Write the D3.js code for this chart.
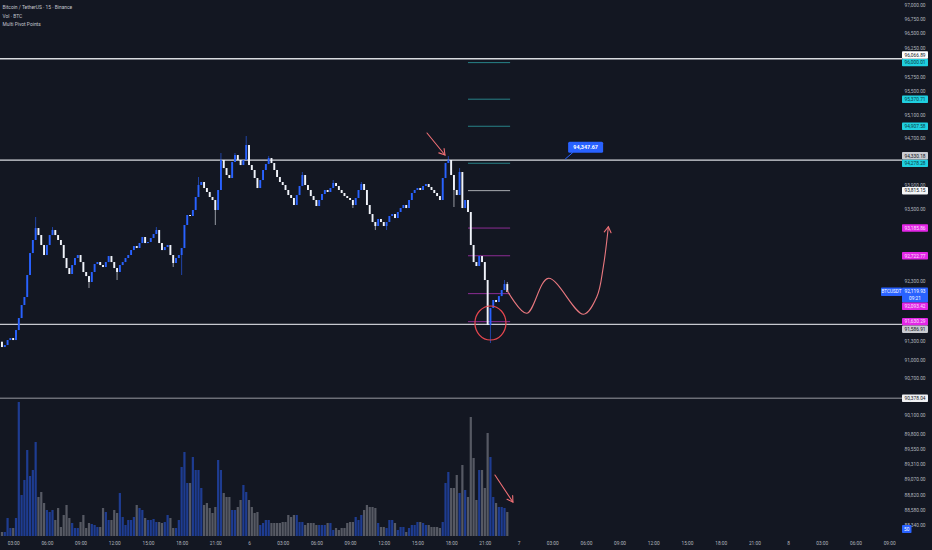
<!DOCTYPE html>
<html lang="en">
<head>
<meta charset="UTF-8">
<title>Bitcoin / TetherUS - 15 - Binance</title>
<script src="https://d3js.org/d3.v7.min.js"></script>
<style>
  html, body { margin: 0; padding: 0; background: #131722; }
  svg { display: block; font-family: Roboto, "Liberation Sans", sans-serif; }
</style>
</head>
<body>
<svg width="932" height="550"></svg>
<script>
// ---- data (15m candles, day 5 02:00 -> day 6 23:00, UTC) ----
const startTime = Date.UTC(2025, 4, 5, 2, 0);
const firstOpen = 91300;
const closes = [
  91213, 91246, 91328, 91361, 91328, 91492, 91690, 91905, 92037, 92402,
  92768, 92986, 93186, 93069, 92902, 92735, 92902, 93069, 93153, 93069,
  92986, 92902, 92685, 92518, 92419, 92568, 92685, 92735, 92618, 92452,
  92385, 92286, 92452, 92585, 92618, 92568, 92535, 92618, 92718, 92618,
  92518, 92452, 92568, 92618, 92685, 92735, 92818, 92885, 92852, 92935,
  93036, 92935, 92952, 93019, 93086, 93153, 92935, 92818, 92868, 92902,
  92735, 92602, 92685, 92735, 92852, 93237, 93405, 93388, 93489, 93708,
  93910, 93961, 93859, 93792, 93708, 93657, 93489, 93826, 94333, 94197,
  94079, 94028, 94299, 94418, 94333, 94248, 94333, 94588, 94248, 94164,
  94028, 93859, 93994, 94164, 94265, 94367, 94282, 94164, 94045, 93961,
  93910, 93826, 93741, 93691, 93573, 93741, 93893, 94079, 93910, 93826,
  93724, 93657, 93556, 93657, 93758, 93826, 93792, 93859, 93944, 93893,
  93826, 93775, 93724, 93691, 93657, 93573, 93691, 93826, 93927, 93826,
  93573, 93421, 93287, 93220, 93338, 93287, 93220, 93287, 93388, 93421,
  93354, 93455, 93522, 93573, 93522, 93657, 93775, 93826, 93859, 93826,
  93893, 93927, 93876, 93826, 93775, 93724, 93657, 94028, 94282, 94333,
  94079, 93826, 93741, 94130, 93522, 93657, 93455, 92902, 92618, 92552,
  92718, 92618, 92319, 91575, 91855, 91988, 91954, 92053, 92153, 92252,
  92119.93
];
// wicks that stick out beyond the body: [candle index, price]
const highs = [[12, 93371], [18, 93203], [55, 93203], [70, 94045], [78, 94452],
  [83, 94452], [87, 94741], [95, 94400], [107, 94130], [118, 93994], [128, 93961],
  [159, 94400], [163, 94197], [179, 92319], [180, 92286]];
const lows = [[31, 92186], [41, 92319], [61, 92535], [64, 92402], [76, 93237],
  [125, 93522], [133, 93153], [137, 93153], [161, 93539], [174, 91279]];
const volumes = [
  40, 40, 180, 80, 80, 180, 1340, 410, 560, 860,
  600, 660, 940, 390, 440, 330, 260, 240, 260, 160,
  280, 90, 210, 310, 180, 130, 80, 80, 140, 210,
  80, 130, 120, 110, 90, 90, 280, 240, 160, 160,
  260, 230, 430, 190, 110, 160, 160, 190, 310, 280,
  260, 180, 160, 160, 170, 140, 140, 130, 140, 210,
  180, 80, 80, 160, 690, 840, 530, 530, 790, 660,
  660, 480, 310, 330, 280, 230, 290, 760, 660, 430,
  390, 390, 260, 260, 290, 360, 510, 440, 360, 290,
  230, 240, 110, 130, 160, 160, 130, 130, 130, 130,
  140, 140, 210, 190, 210, 210, 140, 140, 110, 130,
  130, 130, 110, 110, 110, 110, 130, 130, 60, 80,
  60, 80, 80, 130, 140, 140, 190, 160, 210, 260,
  310, 290, 290, 280, 130, 90, 90, 80, 160, 160,
  130, 60, 90, 90, 40, 80, 110, 110, 140, 140,
  130, 110, 110, 90, 90, 90, 80, 140, 530, 640,
  480, 480, 610, 430, 710, 460, 390, 1190, 780, 360,
  660, 660, 480, 1030, 790, 390, 330, 290, 290, 280,
  240
];

const hLines = [96066.89, 94330.18, 91586.91, 90378.04];
const pivotNames = ["R4", "R3", "R2", "R1", "P", "S1", "S2", "S3", "S4"];
const pivotValues = [96000.01, 95370.71, 94907.58, 94278.28, 93815.15,
  93185.86, 92722.77, 92093.42, 91630.29];
const pivotStart = 166, pivotEnd = 181;   // candle indexes the pivot set spans
const priceTicks = [97000, 96750, 96500, 96250, 95750, 95500, 95100, 94700,
  93900, 93500, 92300, 91300, 91000, 90700, 90100, 89800, 89550, 89310,
  89070, 88820, 88580, 88340];
const symbol = "BTCUSDT";
const lastPrice = 92119.93;
const countdown = "09:21";
const volumeLabel = "50";
const legendLines = ["Bitcoin / TetherUS · 15 · Binance", "Vol · BTC", "Multi Pivot Points"];

// drawings: [candle offset from start, price]
const calloutPoint = [200.6, 94347.67];
const topArrow = [[151.4, 94793], [157.8, 94418]];
const volArrow = [[175.6, 89138], [182.0, 88706]];
const wave = [[180.0, 92142], [186.9, 91768], [194.6, 92347], [207.1, 91752],
  [211.9, 92042], [214.2, 92539], [216.0, 93208]];
const lowCircle = [174.0, 91608];

// ---- scales ----
const svg = d3.select("svg");
const W = 932, H = 550, axisX = 902;
const x = d3.scaleUtc()
  .domain([new Date(Date.UTC(2025, 4, 5, 0)), new Date(Date.UTC(2025, 4, 8, 9))])
  .range([-20.5, 889.1]);
const y = d3.scaleLog().domain([88340, 97000]).range([525, 5]);
const vBase = 536;
const vy = d3.scaleLinear().domain([0, d3.max(volumes)]).range([vBase, vBase - 134]);
const tAt = k => new Date(startTime + k * 15 * 60000);
const px = d => [x(tAt(d[0])), y(d[1])];

const upColor = "#2962ff", downColor = "#f0f3fa";
const red = "#ef6f75";

svg.append("rect").attr("width", W).attr("height", H).attr("fill", "#131722");

const highMap = new Map(highs), lowMap = new Map(lows);
const candles = closes.map((c, i) => {
  const o = i ? closes[i - 1] : firstOpen;
  return {
    t: tAt(i), o, c,
    h: Math.max(o, c, highMap.get(i) || 0),
    l: Math.min(o, c, lowMap.get(i) || Infinity),
    v: volumes[i], up: c >= o
  };
});

// ---- volume ----
svg.append("g").selectAll("rect").data(candles).join("rect")
  .attr("x", d => x(d.t) - 1.1)
  .attr("width", 2.2)
  .attr("y", d => vy(d.v))
  .attr("height", d => vBase - vy(d.v))
  .attr("fill", d => d.up ? "rgba(41,98,255,0.5)" : "rgba(178,181,190,0.42)");

// ---- horizontal levels ----
const lineStroke = ["#d9dbe0", "#d9dbe0", "#c7c9cf", "#a7a9b0"];
const lineWidth = [1.3, 1.3, 1.2, 0.9];
svg.append("g").selectAll("line").data(hLines).join("line")
  .attr("x1", 0).attr("x2", axisX)
  .attr("y1", d => y(d)).attr("y2", d => y(d))
  .attr("stroke", (d, i) => lineStroke[i])
  .attr("stroke-width", (d, i) => lineWidth[i]);

// ---- pivot points ----
const pivotLine = n => n[0] === "R" ? "#2a8f93" : n[0] === "P" ? "#b8bac0" : "#9a2fa0";
svg.append("g").selectAll("line").data(pivotValues).join("line")
  .attr("x1", x(tAt(pivotStart))).attr("x2", x(tAt(pivotEnd)))
  .attr("y1", d => y(d)).attr("y2", d => y(d))
  .attr("stroke", (d, i) => pivotLine(pivotNames[i]))
  .attr("stroke-width", 0.9);

// ---- candles ----
const cg = svg.append("g");
cg.selectAll("line").data(candles).join("line")
  .attr("x1", d => x(d.t)).attr("x2", d => x(d.t))
  .attr("y1", d => y(d.h)).attr("y2", d => y(d.l))
  .attr("stroke", d => d.up ? upColor : downColor)
  .attr("stroke-width", 0.6);
cg.selectAll("rect").data(candles).join("rect")
  .attr("x", d => x(d.t) - 0.95)
  .attr("width", 1.9)
  .attr("y", d => y(Math.max(d.o, d.c)))
  .attr("height", d => Math.max(0.7, Math.abs(y(d.o) - y(d.c))))
  .attr("fill", d => d.up ? upColor : downColor);

// ---- drawings ----
const dg = svg.append("g").attr("fill", "none").attr("stroke", red)
  .attr("stroke-width", 1.1).attr("stroke-linecap", "round");

function arrowHead(from, to) {
  const a = Math.atan2(to[1] - from[1], to[0] - from[0]);
  const len = 6.5, spread = 0.55;
  const p1 = [to[0] - len * Math.cos(a - spread), to[1] - len * Math.sin(a - spread)];
  const p2 = [to[0] - len * Math.cos(a + spread), to[1] - len * Math.sin(a + spread)];
  dg.append("path").attr("d", `M${p1}L${to}L${p2}`);
}

[topArrow, volArrow].forEach(a => {
  const p = a.map(px);
  dg.append("path").attr("d", d3.line()(p));
  arrowHead(p[0], p[1]);
});

const wavePts = wave.map(px);
dg.append("path").attr("stroke", "#e9787f")
  .attr("d", d3.line().curve(d3.curveCatmullRom.alpha(0.5))(wavePts));
arrowHead(wavePts[wavePts.length - 2], wavePts[wavePts.length - 1]);

const cc = px(lowCircle);
dg.append("ellipse").attr("cx", cc[0]).attr("cy", cc[1])
  .attr("rx", 15.5).attr("ry", 17).attr("stroke", "#e8474f").attr("stroke-width", 1.2);

// callout
const ca = px(calloutPoint);
svg.append("line").attr("x1", ca[0]).attr("y1", ca[1])
  .attr("x2", ca[0] + 8).attr("y2", ca[1] - 7)
  .attr("stroke", upColor).attr("stroke-width", 1);
svg.append("rect").attr("x", ca[0] + 3).attr("y", ca[1] - 17.5)
  .attr("width", 35).attr("height", 11).attr("rx", 1.5).attr("fill", upColor);
svg.append("text").attr("x", ca[0] + 20.5).attr("y", ca[1] - 10.2)
  .attr("text-anchor", "middle").attr("font-size", 5.4).attr("font-weight", "bold")
  .attr("fill", "#fff").text(d3.format(",.2f")(calloutPoint[1]));

// ---- x axis ----
const xTicks = x.ticks(d3.utcHour.every(3)).filter(d => x(d) > 6);
const xAxis = d3.axisBottom(x)
  .tickValues(xTicks)
  .tickSize(0).tickPadding(1.5)
  .tickFormat(d => d.getUTCHours() === 0 ? String(d.getUTCDate()) : d3.utcFormat("%H:%M")(d));
const xg = svg.append("g").attr("transform", `translate(0,${540})`).call(xAxis);
xg.select(".domain").remove();
xg.selectAll("text").attr("fill", "#b2b5be").attr("font-size", 4.8)
  .attr("font-family", "Roboto, sans-serif");

// ---- price axis ticks ----
const fmt = d3.format(",.2f");
svg.append("g").selectAll("text").data(priceTicks).join("text")
  .attr("x", 915).attr("y", d => y(d)).attr("dy", "0.35em")
  .attr("text-anchor", "middle").attr("font-size", 4.8).attr("fill", "#b2b5be")
  .text(d => fmt(d));

// ---- price axis labels with simple collision handling ----
const labels = [];
labels.push({ v: lastPrice, prio: 2, h: 15, off: 4.5, fill: upColor, color: "#fff",
  lines: [fmt(lastPrice), countdown] });
pivotValues.forEach((v, i) => {
  const n = pivotNames[i];
  if (n[0] === "P") {
    labels.push({ v, prio: 1, h: 7.5, off: 3.75, fill: "#f5f6f8", color: "#131722", lines: [fmt(v)] });
  } else {
    labels.push({ v, prio: 1, h: 7.5, off: 3.75, fill: n[0] === "R" ? "#1fcfdf" : "#e326e6",
      color: n[0] === "R" ? "#0d3c44" : "#fbe0fb", lines: [fmt(v)] });
  }
});
const lineFill = ["#ffffff", "#c9cbd1", "#c9cbd1", "#f0f1f4"];
hLines.forEach((v, i) => labels.push({ v, prio: 0, h: 7.5, off: 3.75, fill: lineFill[i],
  color: "#131722", lines: [fmt(v)] }));

// higher priority labels stay at their price, the others step aside
const placed = [];
labels.sort((a, b) => b.prio - a.prio).forEach(l => {
  let top = y(l.v) - l.off;
  for (let pass = 0; pass < 4; pass++) {
    placed.forEach(p => {
      if (top < p.top + p.h && top + l.h > p.top) {
        top = (l.v > p.v) ? p.top - l.h : p.top + p.h;
      }
    });
  }
  l.top = top;
  placed.push(l);
});

const lg = svg.append("g").selectAll("g").data(placed).join("g")
  .attr("transform", d => `translate(${axisX},${d.top})`);
lg.append("rect").attr("width", 26).attr("height", d => d.h).attr("rx", 0.8)
  .attr("fill", d => d.fill);
lg.each(function (d) {
  d3.select(this).selectAll("text").data(d.lines).join("text")
    .attr("x", 13).attr("y", (t, i) => 5.5 + i * 6.8)
    .attr("text-anchor", "middle").attr("font-size", 4.8).attr("fill", d.color)
    .text(t => t);
});

// symbol tag next to the last price
const sy = placed.find(l => l.prio === 2).top;
svg.append("rect").attr("x", 881).attr("y", sy).attr("width", 21).attr("height", 8.5)
  .attr("rx", 0.8).attr("fill", upColor);
svg.append("text").attr("x", 891.5).attr("y", sy + 5.9).attr("text-anchor", "middle")
  .attr("font-size", 4.6).attr("fill", "#fff").text(symbol);

// volume value tag
svg.append("rect").attr("x", 902).attr("y", 525).attr("width", 9.5).attr("height", 8)
  .attr("rx", 0.8).attr("fill", upColor);
svg.append("text").attr("x", 906.75).attr("y", 530.8).attr("text-anchor", "middle")
  .attr("font-size", 4.8).attr("fill", "#fff").text(volumeLabel);

// ---- legend ----
svg.append("g").selectAll("text").data(legendLines).join("text")
  .attr("x", 2.5).attr("y", (d, i) => 9.3 + i * 8.2)
  .attr("font-size", 4.9).attr("fill", "#c3c6ce")
  .text(d => d);
</script>
</body>
</html>
